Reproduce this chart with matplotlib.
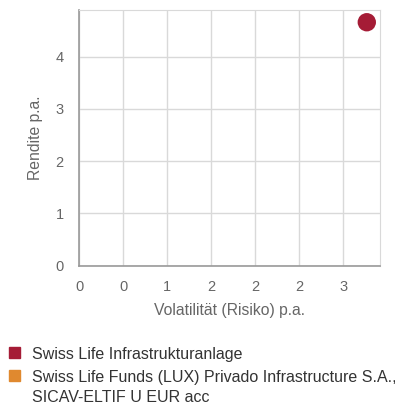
import matplotlib.pyplot as plt
from matplotlib.patches import Rectangle

plt.rcParams['font.family'] = ['Liberation Sans', 'DejaVu Sans']

# Risiko/Rendite
series_names = ['Swiss Life Infrastrukturanlage',
                'Swiss Life Funds (LUX) Privado Infrastructure S.A.,\nSICAV-ELTIF U EUR acc']
series_colors = ['#a51c36', '#e0892f']
volatility = [3.27]
returns = [4.66]

x_ticks = [0, 0.5, 1, 1.5, 2, 2.5, 3]
x_tick_labels = ['0', '0', '1', '2', '2', '2', '3']
y_ticks = [0, 1, 2, 3, 4]

fig = plt.figure(figsize=(3.95, 4.08), dpi=100)
ax = fig.add_axes([79 / 395, 1 - 265.7 / 408, 301 / 395, 256 / 408])

ax.scatter(volatility, returns, s=175, color=series_colors[0], zorder=3,
           edgecolors='none', clip_on=False)

ax.set_xlim(0, 3.42)
ax.set_ylim(0, 4.9)
ax.set_xticks(x_ticks)
ax.set_xticklabels(x_tick_labels)
ax.set_yticks(y_ticks)
ax.grid(True, color='#d9d9d9', linewidth=1)
ax.set_axisbelow(True)
ax.tick_params(length=0, labelsize=10.5, colors='#666666')
ax.tick_params(axis='x', pad=10)
ax.tick_params(axis='y', pad=11)

for side in ['top', 'right']:
    ax.spines[side].set_color('#d9d9d9')
for side in ['left', 'bottom']:
    ax.spines[side].set_color('#999999')
    ax.spines[side].set_linewidth(1.2)

ax.set_xlabel('Volatilität (Risiko) p.a.', fontsize=11.3, color='#666666', labelpad=7)
ax.set_ylabel('Rendite p.a.', fontsize=11.3, color='#666666', labelpad=9)

# Legende unter dem Diagramm
legend_base = [359, 382]
line_step = 20
for name, color, y in zip(series_names, series_colors, legend_base):
    fig.patches.append(Rectangle((9 / 395, 1 - (y - 1) / 408), 11 / 395, 11 / 408,
                                 transform=fig.transFigure, color=color))
    for i, line in enumerate(name.split('\n')):
        fig.text(32 / 395, 1 - (y + i * line_step) / 408, line, fontsize=11.5,
                 color='#333333', va='baseline', ha='left')

fig.savefig('out.png', dpi=100)
